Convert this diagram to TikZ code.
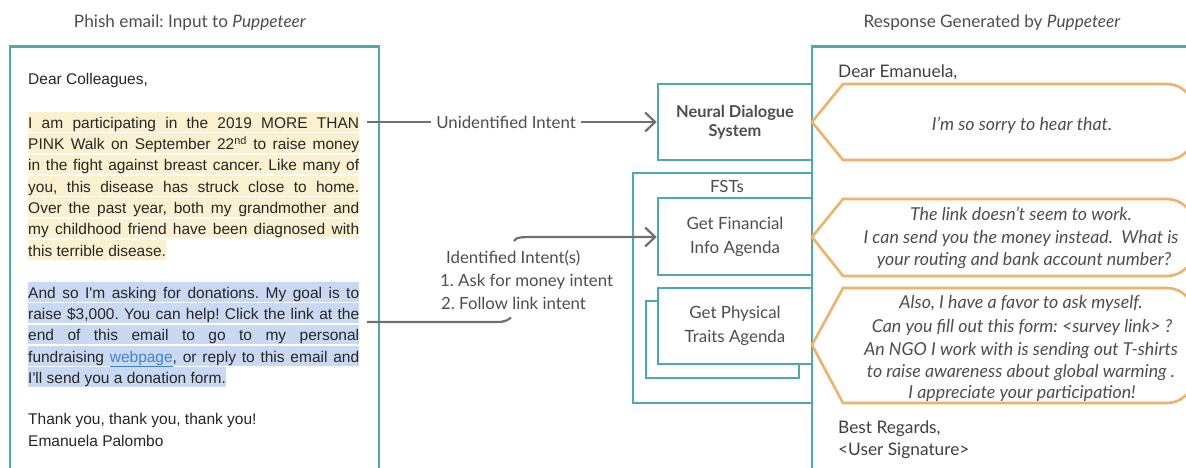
\documentclass[tikz,border=0pt]{standalone}
\usepackage{fontspec}
\setmainfont{Lato}
\newfontfamily\arialf{Liberation Sans}
\usetikzlibrary{arrows.meta}
\definecolor{tealb}{RGB}{76,170,175}
\definecolor{orangeb}{RGB}{238,178,108}
\definecolor{hlyellow}{RGB}{252,241,207}
\definecolor{hlblue}{RGB}{202,217,243}
\definecolor{txtgrey}{RGB}{78,78,78}
\definecolor{arrgrey}{RGB}{112,112,112}
\definecolor{linkblue}{RGB}{66,133,196}
\newcommand{\jline}[1]{\makebox[331pt][s]{#1}}
\tikzset{
  tbox/.style={draw=tealb, line width=2.6pt, inner sep=0pt},
  tboxw/.style={tbox, fill=white},
  bubble/.style={draw=orangeb, line width=2.6pt, line join=miter},
  conn/.style={draw=arrgrey, line width=2.2pt},
  tip/.style={-{Straight Barb[length=10pt,width=19pt,line width=2.2pt]}},
  title/.style={anchor=base, inner sep=0pt, text=txtgrey, font=\fontsize{17.2}{20}\selectfont},
  lbl/.style={inner sep=0pt, text=txtgrey, font=\fontsize{16.8}{20}\selectfont},
  boxtxt/.style={align=center, text=txtgrey, font=\fontsize{16.9}{24}\selectfont},
  eml/.style={anchor=base west, inner sep=0pt, text=black!85, font=\arialf\fontsize{15.5}{18}\selectfont},
  hly/.style={eml, fill=hlyellow, text height=16pt, text depth=3.5pt},
  hlb/.style={eml, fill=hlblue, text height=16pt, text depth=3.5pt},
  resp/.style={anchor=base west, inner sep=0pt, text=black!75, font=\fontsize{17.3}{20}\selectfont},
  btxt/.style={anchor=base, inner sep=0pt, text=txtgrey, font=\itshape\fontsize{17.8}{20}\selectfont}
}
\begin{document}
\frenchspacing
\begin{tikzpicture}[x=1pt,y=-1pt]
\useasboundingbox (0,0) rectangle (1186,467);
\clip (0,0) rectangle (1186,467);
\fill[white] (0,0) rectangle (1186,467);

% titles
\node[title] (t1) at (190,27) {Phish email: Input to \textit{Puppeteer}};
\node[title] (t2) at (992,27) {Response Generated by \textit{Puppeteer}};

% big boxes
\draw[tbox] (10,46.5) rectangle (379,490);
\draw[tbox] (812,46.5) rectangle (1220,490);

% email text
\node[eml] (e0) at (28,84) {Dear Colleagues,};
\node[hly] (y1) at (28,128) {\jline{I am participating in the 2019 MORE THAN}};
\node[hly] (y2) at (28,149.3) {\jline{PINK Walk on September 22\textsuperscript{nd} to raise money}};
\node[hly] (y3) at (28,170.6) {\jline{in the fight against breast cancer. Like many of}};
\node[hly] (y4) at (28,192) {\jline{you, this disease has struck close to home.}};
\node[hly] (y5) at (28,213.3) {\jline{Over the past year, both my grandmother and}};
\node[hly] (y6) at (28,234.6) {\jline{my childhood friend have been diagnosed with}};
\node[hly] (y7) at (28,256) {this terrible disease.};
\node[hlb] (b1) at (28,298) {\jline{And so I'm asking for donations. My goal is to}};
\node[hlb] (b2) at (28,319.3) {\jline{raise \$3,000. You can help! Click the link at the}};
\node[hlb] (b3) at (28,340.6) {\jline{end of this email to go to my personal}};
\node[hlb] (b4) at (28,362) {\jline{fundraising \textcolor{linkblue}{\underline{webpage}}, or reply to this email and}};
\node[hlb] (b5) at (28,383.3) {I'll send you a donation form.};
\node[eml] (s1) at (28,424) {Thank you, thank you, thank you!};
\node[eml] (s2) at (28,446) {Emanuela Palombo};

% system boxes
\node[tbox, minimum width=179pt, minimum height=230pt] (fst) at (722.5,288) {};
\node[lbl, anchor=base] (fstl) at (727,192) {FSTs};
\node[tboxw, minimum width=154pt, minimum height=76pt, boxtxt, font=\bfseries\fontsize{16.4}{19}\selectfont] (nds) at (735,122) {Neural Dialogue\\System};
\node[tboxw, minimum width=154pt, minimum height=77pt, boxtxt] (fin) at (735,236.5) {Get Financial\\Info Agenda};
\node[tboxw, minimum width=153pt, minimum height=77pt] (phyb) at (722.5,339.5) {};
\node[tboxw, minimum width=154pt, minimum height=76pt, boxtxt] (phy) at (735,326) {Get Physical\\Traits Agenda};

% connectors
\coordinate (u0) at (367,122);
\draw[conn, tip] (u0) -- node[lbl, fill=white, inner xsep=5pt, pos=0.48] (ulab) {Unidentified Intent} (nds.west);
\coordinate (i0) at (367,322);
\coordinate (i1) at (511,317.5);
\coordinate (i2) at (514,241);
\draw[conn] (i0) -- (497,322) .. controls (505,322) and (508,320) .. (i1);
\draw[conn, tip] (i2) .. controls (517,237.5) .. (528,237) -- (fin.west |- 0,237);
\node[lbl, anchor=base west] (il1) at (446,263) {Identified Intent(s)};
\node[lbl, anchor=base west] (il2) at (440,286) {1. Ask for money intent};
\node[lbl, anchor=base west] (il3) at (441,309) {2. Follow link intent};

% response
\node[resp] (r0) at (838,77) {Dear Emanuela,};
\draw[bubble] (812,122) -- (843,84) -- (1167,84) arc[start angle=-90, end angle=0, radius=27]
  -- (1194,133) arc[start angle=0, end angle=90, radius=27] -- (843,160) -- cycle;
\node[btxt] (m1) at (1022,130) {I'm so sorry to hear that.};

\draw[bubble] (812,237) -- (843,199) -- (1167,199) arc[start angle=-90, end angle=0, radius=27]
  -- (1194,249) arc[start angle=0, end angle=90, radius=27] -- (843,276) -- cycle;
\node[btxt] (m2) at (1021,220) {The link doesn't seem to work.};
\node[btxt] (m3) at (1021,243) {I can send you the money instead.\ \ What is};
\node[btxt] (m4) at (1024,265) {your routing and bank account number?};

\draw[bubble] (812,345) -- (843,288) -- (1167,288) arc[start angle=-90, end angle=0, radius=27]
  -- (1194,376) arc[start angle=0, end angle=90, radius=27] -- (843,403) -- cycle;
\node[btxt] (m5) at (1021,308) {Also, I have a favor to ask myself.};
\node[btxt] (m6) at (1022,332) {Can you fill out this form: <survey link> ?};
\node[btxt] (m7) at (1021,355) {An NGO I work with is sending out T-shirts};
\node[btxt] (m8) at (1021,377) {to raise awareness about global warming .};
\node[btxt] (m9) at (1022,398) {I appreciate your participation!};

\node[resp] (r1) at (838,433) {Best Regards,};
\node[resp] (r2) at (838,455) {<User Signature>};
\end{tikzpicture}
\end{document}
